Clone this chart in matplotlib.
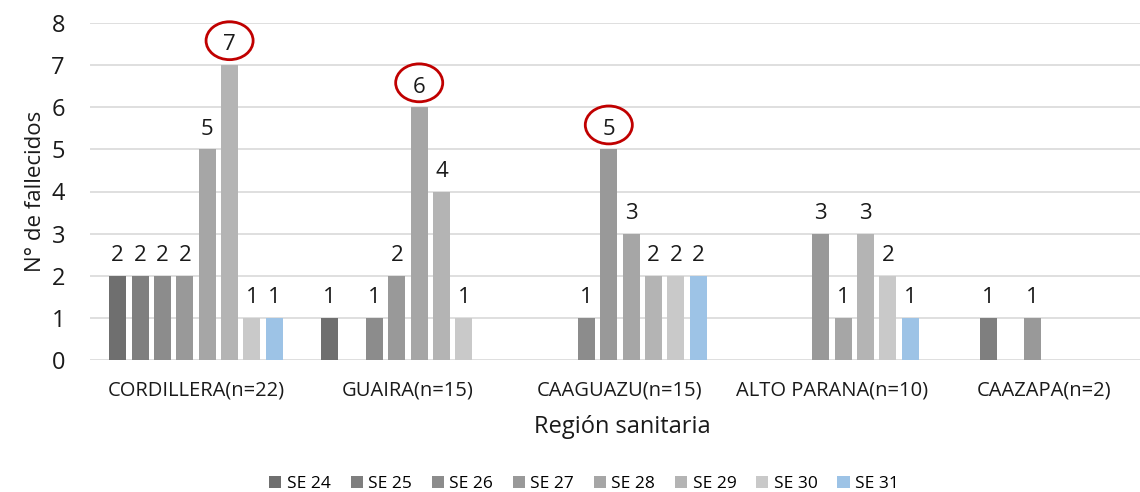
import matplotlib
matplotlib.use("Agg")
import matplotlib.pyplot as plt
from matplotlib.patches import Ellipse
import numpy as np

plt.rcParams['font.family'] = ['Open Sans', 'DejaVu Sans']

# Datos
regiones = ["CORDILLERA(n=22)", "GUAIRA(n=15)", "CAAGUAZU(n=15)",
            "ALTO PARANA(n=10)", "CAAZAPA(n=2)"]
semanas = ["SE 24", "SE 25", "SE 26", "SE 27", "SE 28", "SE 29", "SE 30", "SE 31"]
# valores por semana (en el orden de regiones)
se24 = [2, 1, 0, 0, 0]
se25 = [2, 0, 0, 0, 1]
se26 = [2, 1, 1, 0, 0]
se27 = [2, 2, 5, 3, 1]
se28 = [5, 6, 3, 1, 0]
se29 = [7, 4, 2, 3, 0]
se30 = [1, 1, 2, 2, 0]
se31 = [1, 0, 2, 1, 0]
series = [se24, se25, se26, se27, se28, se29, se30, se31]
colores = ["#6f6f6f", "#7f7f7f", "#8c8c8c", "#999999",
           "#a6a6a6", "#b4b4b4", "#c9c9c9", "#9dc3e6"]
# (region, serie) de los valores destacados con circulo rojo
destacados = [(0, 5), (1, 4), (2, 3)]

fig = plt.figure(figsize=(11.4, 4.92), dpi=100)
ax = fig.add_axes([90 / 1140, 132 / 492, 1060 / 1140, 337 / 492])

x = np.arange(len(regiones))
paso = 0.1056
ancho = 0.08
for i, (nombre, vals, col) in enumerate(zip(semanas, series, colores)):
    barras = ax.bar(x + (i - 3.5) * paso, vals, ancho, color=col, label=nombre, zorder=3)
    etiquetas = [str(v) if v > 0 else "" for v in vals]
    ax.bar_label(barras, labels=etiquetas, padding=7, fontsize=16, color="#1a1a1a")

# elipses rojas alrededor de los maximos
for reg, s in destacados:
    xc = reg + (s - 3.5) * paso
    yc = series[s][reg] + 0.58
    ax.add_patch(Ellipse((xc, yc), 0.222, 0.9, facecolor="none",
                         edgecolor="#c00000", linewidth=2, zorder=4, clip_on=False))

ax.set_ylim(0, 8)
ax.set_xlim(-0.5, 4.5)
ax.set_yticks(range(0, 9))
ax.yaxis.grid(True, color="#d9d9d9", linewidth=1.2, zorder=0)
ax.set_axisbelow(True)
for sp in ax.spines.values():
    sp.set_visible(False)
ax.tick_params(axis="y", length=0, labelsize=17, pad=18, labelcolor="#1a1a1a")
ax.tick_params(axis="x", length=0, labelsize=14.5, pad=15, labelcolor="#1a1a1a")
ax.set_xticks(x)
ax.set_xticklabels(regiones)
ax.set_ylabel("N° de fallecidos", fontsize=16, color="#1a1a1a", labelpad=4)
fig.text(622 / 1140, 1 - 427 / 492, "Región sanitaria", fontsize=17,
         color="#1a1a1a", ha="center", va="center")

fig.legend(loc="center", bbox_to_anchor=(584 / 1140, 1 - 484 / 492), ncol=8,
           frameon=False, fontsize=12.5, handlelength=0.7, handleheight=0.7,
           handletextpad=0.3, columnspacing=1.15)

fig.savefig("out.png", dpi=100)
